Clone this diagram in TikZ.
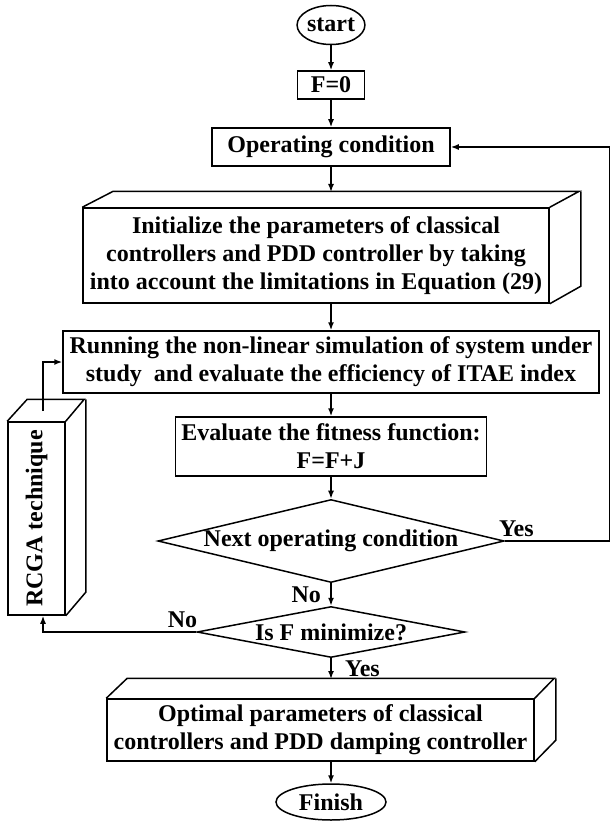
\documentclass[tikz,border=0pt]{standalone}
\usepackage{fontspec}
\setmainfont{Liberation Serif}
\usetikzlibrary{shapes.geometric}
\usetikzlibrary{arrows.meta}
\usetikzlibrary{positioning}
\tikzset{block/.style = {draw, rectangle, inner sep = 0, align = center}}
\tikzset{term/.style = {draw, ellipse, inner sep = 0}}
\tikzset{decide/.style = {draw, diamond, inner sep = 0}}
\tikzset{arr/.style = {-{Latex[length = 8pt, width = 6pt]}}}

\begin{document}
\begin{tikzpicture}[x = 1pt, y = -1pt, line width = 1.5pt,
    font = \bfseries\fontsize{24}{28}\selectfont]
    \useasboundingbox (0, 0) rectangle (611, 821);

    \node [term, minimum width = 65, minimum height = 39] (start) at (331, 25) {start};
    \node [block, minimum width = 67, minimum height = 28] (fzero) at (331, 85) {F=0};
    \node [block, minimum width = 238, minimum height = 38] (oper) at (331, 147) {Operating condition};

    % box with depth
    \node [block, minimum width = 466, minimum height = 95] (init) at (316, 255.5)
      {Initialize the parameters of classical\\ controllers and PDD controller by taking\\ into account the limitations in Equation (29)};
    \draw (init.north west) -- ++(31, -16) -- ++(466, 0) -- (init.north east);
    \draw (init.north east) ++(31, -16) -- ++(0, 95) -- (init.south east);
    \coordinate (initback) at (331, 192);

    \node [block, minimum width = 536, minimum height = 62] (run) at (331, 362)
      {Running the non-linear simulation of system under\\ study\ \ and evaluate the efficiency of ITAE index};
    \node [block, minimum width = 311, minimum height = 59] (eval) at (331, 446.5)
      {Evaluate the fitness function:\\ F=F+J};

    \node [decide, shape aspect = 4.17, minimum width = 342, minimum height = 82] (next) at (331, 541) {Next operating condition};
    \node [decide, shape aspect = 5.25, minimum width = 268, minimum height = 51] (isf) at (331, 632) {Is F minimize?};

    % box with depth
    \node [block, minimum width = 427, minimum height = 62] (opt) at (320.5, 730)
      {Optimal parameters of classical\\ controllers and PDD damping controller};
    \draw (opt.north west) -- ++(21, -20) -- ++(427, 0) -- (opt.north east);
    \draw (opt.north east) ++(21, -20) -- ++(0, 62) -- (opt.south east);
    \coordinate (optback) at (331, 679);

    \node [term, minimum width = 110, minimum height = 36] (finish) at (331, 802) {Finish};

    % RCGA column
    \node [block, minimum width = 57, minimum height = 193] (rcga) at (36.5, 518.5) {\rotatebox{90}{RCGA technique}};
    \draw (rcga.north west) -- ++(20, -22) -- ++(57, 0) -- (rcga.north east);
    \draw (rcga.north east) ++(20, -22) -- ++(0, 193) -- (rcga.south east);
    \coordinate (rcgatop) at (43, 411);
    \coordinate (turn) at (43, 632);
    \coordinate (fb) at (609.5, 541);

    \draw [arr] (start) -- (fzero);
    \draw [arr] (fzero) -- (oper);
    \draw [arr] (oper) -- (initback);
    \draw [arr] (init.south -| run) -- (run);
    \draw [arr] (run) -- (eval);
    \draw [arr] (eval) -- (next);
    \draw [arr] (next) -- node [left = 6pt] {No} (isf);
    \draw [arr] (isf) -- node [right = 10pt] {Yes} (optback);
    \draw [arr] (opt.south -| finish) -- (finish);

    \draw (next.east) -- node [above, pos = 0.11] {Yes} (fb);
    \draw [arr] (fb) |- (oper);
    \draw [arr] (isf.west) -- node [above, pos = 0.09] {No} (turn) -- (turn |- rcga.south);
    \draw [arr] (rcgatop) |- (run);
  \end{tikzpicture}
\end{document}
